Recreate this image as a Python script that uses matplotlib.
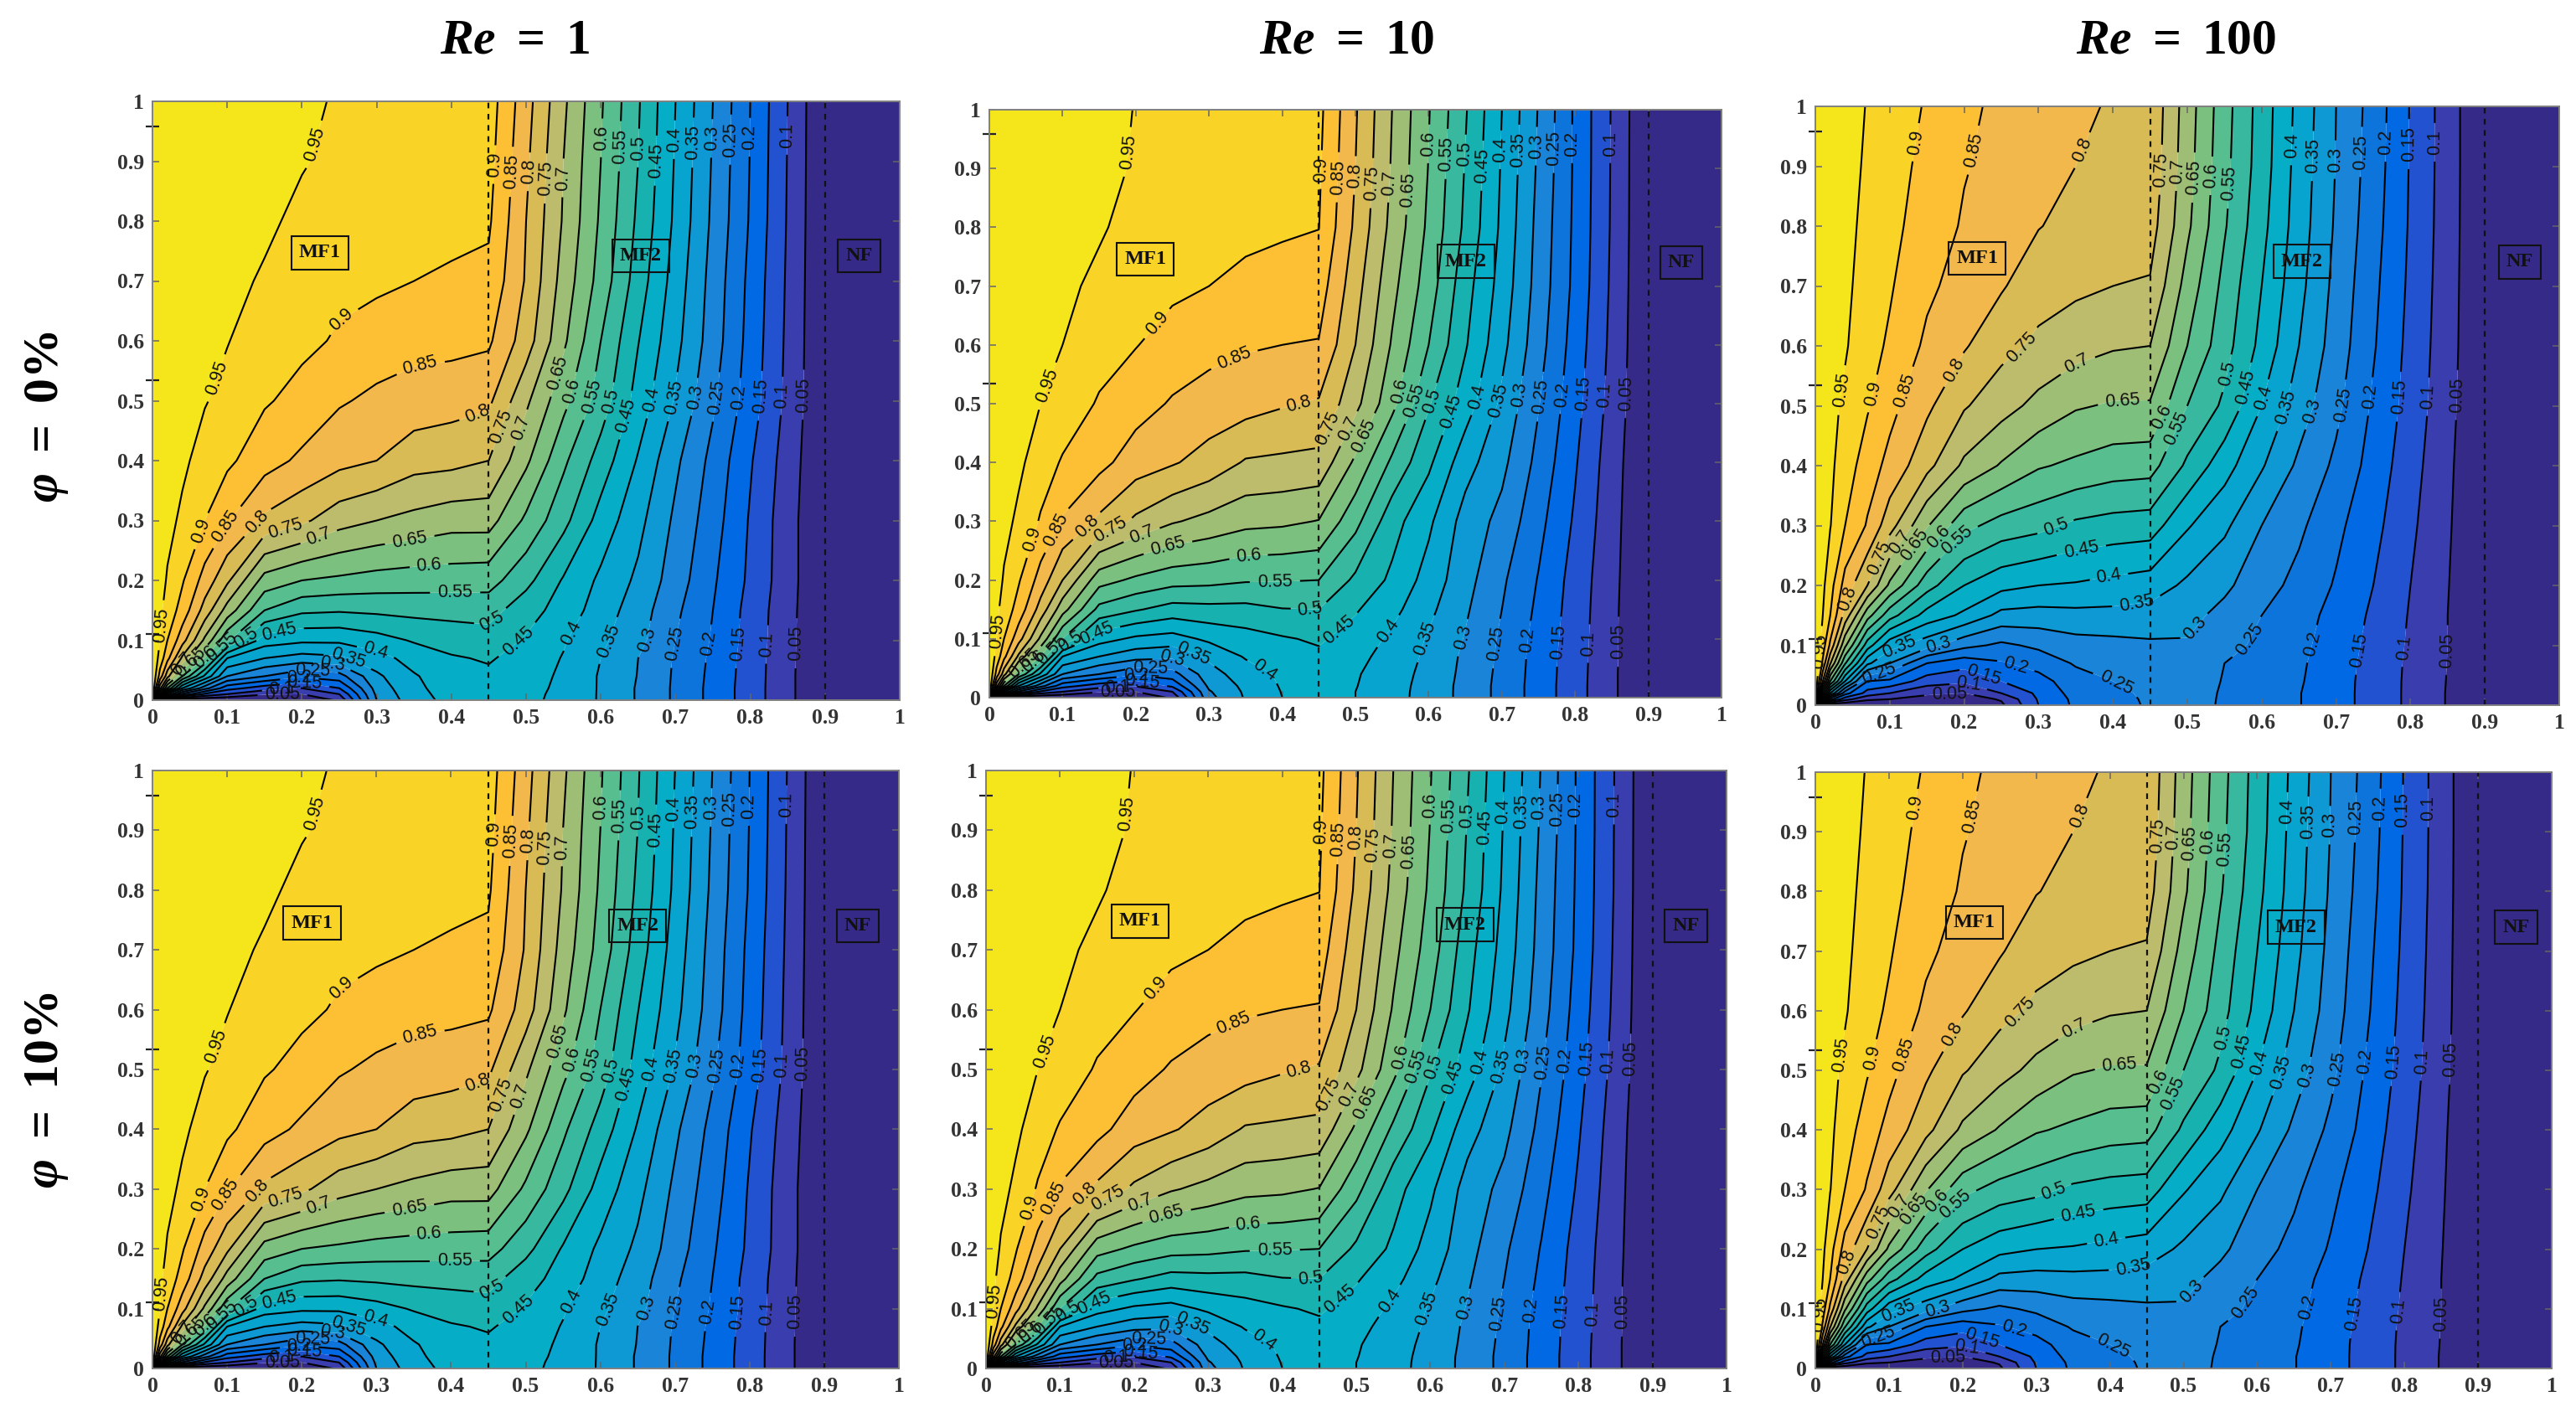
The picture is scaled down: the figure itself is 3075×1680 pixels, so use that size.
import matplotlib
matplotlib.use("Agg")
import matplotlib.pyplot as plt
import numpy as np

plt.rcParams["mathtext.fontset"] = "custom"
plt.rcParams["mathtext.rm"] = "Liberation Serif:bold"
plt.rcParams["mathtext.bf"] = "Liberation Serif:bold"
plt.rcParams["mathtext.it"] = "Liberation Serif:italic:bold"
plt.rcParams["mathtext.bfit"] = "Liberation Serif:italic:bold"

W, H = 3075, 1680

x_grid = [0, .01, .02, .04, .07, .1, .15, .2, .25, .3, .35, .4, .45,
          .5, .55, .6, .65, .7, .75, .8, .85, .9, 1]
y_grid = [0, .01, .02, .04, .07, .1, .15, .2, .3, .4, .5, .6, .7, .8, .9, 1]

# one list per x_grid column
z_axis = [0, 1, 1, 1, 1, 1, 1, 1, 1, 1, 1, 1, 1, 1, 1, 1]
z_far = [0] * 16

z_re1 = [
    z_axis,
    [0, .6, .77, .88, .93, .95, .96, .97, .975, .98, .98, .985, .985, .987, .988, .99],
    [0, .4, .6, .77, .865, .9, .93, .945, .965, .973, .978, .982, .985, .987, .988, .99],
    [0, .24, .4, .6, .74, .82, .88, .905, .94, .96, .968, .974, .978, .98, .983, .985],
    [0, .14, .27, .44, .6, .69, .78, .83, .9, .93, .953, .962, .968, .972, .975, .978],
    [0, .1, .17, .3, .4, .56, .68, .76, .855, .91, .935, .952, .962, .968, .972, .975],
    [0, .055, .125, .25, .35, .425, .55, .63, .79, .87, .905, .925, .945, .958, .965, .97],
    [0, .05, .1, .21, .33, .41, .51, .6, .76, .84, .885, .91, .925, .94, .953, .96],
    [.06, .1, .15, .23, .34, .41, .505, .59, .72, .815, .855, .895, .91, .925, .94, .945],
    [.3, .31, .32, .34, .38, .43, .51, .58, .7, .8, .84, .875, .91, .92, .93, .937],
    [.38, .385, .39, .395, .42, .455, .515, .575, .685, .77, .83, .865, .9, .912, .922, .93],
    [.415, .418, .42, .43, .445, .47, .517, .573, .67, .765, .82, .865, .895, .91, .92, .925],
    [.43, .432, .435, .44, .455, .478, .52, .57, .67, .75, .81, .858, .888, .907, .917, .925],
    [.413, .415, .418, .425, .43, .445, .47, .515, .59, .66, .71, .775, .795, .8, .81, .82],
    [.385, .386, .388, .39, .397, .405, .43, .445, .515, .56, .615, .66, .68, .695, .7, .71],
    [.345, .345, .345, .345, .35, .36, .375, .39, .43, .478, .527, .55, .58, .592, .6, .606],
    [.295, .295, .295, .298, .3, .315, .325, .34, .365, .395, .43, .452, .476, .49, .5, .505],
    [.242, .242, .242, .243, .245, .25, .26, .275, .29, .31, .345, .365, .378, .39, .395, .4],
    [.185, .185, .185, .187, .19, .195, .2, .207, .222, .235, .258, .275, .281, .29, .295, .3],
    [.125, .125, .125, .126, .127, .13, .132, .14, .145, .155, .175, .182, .187, .195, .198, .2],
    [.063, .063, .063, .063, .064, .065, .067, .07, .07, .077, .087, .09, .093, .096, .098, .1],
    z_far,
    z_far,
]

z_re10 = [
    z_axis,
    [0, .6, .77, .88, .93, .95, .96, .97, .975, .98, .98, .985, .985, .987, .988, .99],
    [0, .4, .6, .77, .865, .9, .93, .945, .965, .973, .978, .982, .985, .987, .988, .99],
    [0, .24, .4, .6, .74, .82, .88, .905, .94, .96, .968, .974, .978, .98, .983, .985],
    [0, .14, .27, .44, .6, .69, .78, .83, .895, .925, .95, .96, .967, .972, .975, .978],
    [0, .1, .17, .3, .4, .55, .67, .75, .845, .895, .93, .95, .96, .968, .972, .975],
    [0, .055, .125, .25, .35, .42, .535, .62, .79, .865, .895, .92, .94, .955, .965, .97],
    [0, .05, .105, .21, .32, .39, .505, .59, .74, .825, .87, .902, .92, .935, .945, .948],
    [.06, .1, .16, .23, .31, .38, .48, .57, .705, .805, .845, .88, .91, .925, .935, .94],
    [.285, .295, .31, .33, .36, .41, .485, .565, .685, .78, .83, .865, .9, .915, .925, .93],
    [.355, .358, .362, .375, .405, .43, .485, .555, .665, .745, .82, .855, .89, .91, .92, .925],
    [.4, .402, .405, .41, .425, .445, .498, .553, .66, .74, .805, .85, .885, .905, .915, .92],
    [.42, .421, .423, .43, .44, .457, .5, .55, .648, .735, .795, .847, .875, .901, .907, .913],
    [.4, .4, .402, .405, .415, .43, .455, .49, .565, .64, .715, .75, .77, .79, .8, .805],
    [.368, .369, .37, .372, .38, .39, .415, .44, .47, .54, .615, .645, .665, .685, .695, .7],
    [.33, .33, .331, .335, .34, .345, .362, .38, .41, .46, .505, .55, .575, .59, .598, .603],
    [.285, .285, .285, .287, .29, .297, .307, .318, .33, .37, .425, .455, .47, .49, .497, .505],
    [.235, .235, .235, .237, .24, .242, .25, .258, .285, .313, .34, .365, .38, .39, .395, .4],
    [.178, .178, .178, .179, .18, .183, .19, .197, .215, .235, .253, .27, .28, .285, .292, .297],
    [.12, .12, .12, .121, .122, .124, .127, .13, .143, .155, .168, .178, .187, .19, .192, .192],
    [.06, .06, .06, .06, .061, .061, .062, .064, .068, .073, .082, .088, .092, .095, .096, .097],
    z_far,
    z_far,
]

z_re100 = [
    z_axis,
    [0, .4, .6, .8, .89, .925, .95, .96, .97, .975, .978, .98, .982, .984, .985, .986],
    [0, .22, .4, .6, .755, .84, .9, .92, .952, .96, .965, .97, .973, .975, .977, .978],
    [0, .12, .22, .4, .555, .66, .78, .83, .9, .925, .94, .955, .96, .963, .965, .967],
    [0, .06, .13, .2, .36, .475, .62, .75, .845, .875, .905, .918, .93, .938, .944, .948],
    [0, .05, .1, .19, .3, .37, .52, .64, .77, .835, .865, .893, .905, .915, .922, .93],
    [0, .03, .06, .125, .2, .32, .43, .52, .655, .765, .81, .84, .86, .875, .885, .895],
    [0, .025, .05, .11, .17, .265, .39, .45, .565, .69, .755, .805, .83, .845, .853, .86],
    [.04, .055, .1, .15, .195, .24, .335, .415, .53, .645, .72, .765, .805, .825, .835, .84],
    [.15, .155, .16, .18, .22, .26, .33, .4, .515, .605, .685, .74, .77, .802, .815, .825],
    [.21, .212, .22, .23, .255, .28, .335, .395, .49, .59, .655, .72, .76, .785, .8, .81],
    [.235, .237, .24, .25, .27, .285, .335, .385, .48, .575, .645, .705, .75, .775, .785, .795],
    [.255, .256, .258, .26, .272, .292, .33, .375, .475, .57, .645, .7, .745, .772, .785, .79],
    [.265, .267, .27, .275, .285, .295, .315, .34, .405, .49, .55, .6, .63, .66, .67, .675],
    [.245, .245, .245, .247, .25, .265, .285, .31, .36, .42, .49, .52, .535, .555, .565, .57],
    [.223, .223, .224, .226, .23, .24, .25, .27, .3, .355, .4, .435, .45, .465, .475, .478],
    [.202, .202, .202, .205, .208, .213, .222, .235, .26, .29, .325, .35, .365, .375, .38, .385],
    [.17, .17, .17, .17, .172, .176, .182, .195, .212, .24, .262, .277, .285, .293, .298, .3],
    [.13, .13, .13, .131, .133, .136, .142, .15, .165, .18, .193, .205, .212, .22, .226, .23],
    [.09, .09, .09, .09, .091, .093, .096, .1, .11, .12, .13, .135, .14, .144, .146, .147],
    [.047, .047, .047, .048, .049, .05, .05, .052, .056, .06, .066, .07, .072, .074, .075, .075],
    z_far,
    z_far,
]

levels = [.05, .1, .15, .2, .25, .3, .35, .4, .45, .5, .55, .6, .65, .7, .75, .8, .85, .9, .95]
band_edges = [-.01] + levels + [1.01]
band_colors = ["#352a87", "#3a3dae", "#2352d1", "#0069e3", "#0d74dc", "#1a85d8", "#0e98d4",
               "#07a4d0", "#06adc6", "#17b2b0", "#39b8a0", "#57be8f", "#7bc07f", "#9fbe75",
               "#bdbb6c", "#d8bb55", "#f2b84b", "#fdbf33", "#f9d326", "#f5e51b"]

labels_re1 = [
    (.95, .222, .926), (.95, .088, .537), (.9, .258, .626), (.85, .359, .551), (.8, .435, .479),
    (.9, .064, .283), (.85, .101, .288), (.8, .144, .293), (.75, .179, .279), (.7, .224, .267),
    (.65, .344, .269), (.6, .37, .227), (.55, .405, .181), (.5, .454, .132), (.5, .123, .106),
    (.55, .09, .092), (.45, .17, .109), (.4, .299, .083), (.35, .263, .074), (.3, .241, .062),
    (.25, .215, .053), (.2, .196, .046), (.15, .204, .032), (.1, .172, .027), (.05, .174, .011),
    (.95, .013, .125), (.6, .065, .078), (.65, .047, .069), (.7, .04, .06),
    (.75, .469, .456), (.7, .495, .454), (.45, .491, .097),
    (.9, .463, .894), (.85, .484, .882), (.8, .508, .882), (.75, .53, .871), (.7, .553, .872),
    (.6, .601, .939), (.55, .627, .925), (.5, .651, .922), (.45, .674, .901), (.4, .699, .936),
    (.35, .724, .931), (.3, .75, .938), (.25, .775, .936), (.2, .799, .94), (.1, .85, .943),
    (.65, .543, .547), (.6, .564, .516), (.55, .59, .507), (.5, .616, .498), (.45, .639, .474),
    (.4, .672, .501), (.35, .7, .506), (.3, .728, .506), (.25, .757, .506), (.2, .786, .506),
    (.15, .814, .508), (.1, .842, .508), (.05, .871, .51),
    (.4, .562, .111), (.35, .611, .099), (.3, .657, .102), (.25, .7, .095), (.2, .742, .095),
    (.15, .783, .095), (.1, .822, .093), (.05, .861, .095),
]
labels_re10 = [
    (.95, .19, .928), (.95, .077, .531), (.9, .232, .633), (.85, .337, .569), (.8, .423, .496),
    (.9, .057, .27), (.85, .093, .284), (.8, .133, .292), (.75, .167, .28), (.7, .21, .27),
    (.65, .245, .251), (.6, .354, .239), (.55, .39, .199), (.5, .438, .149), (.5, .108, .102),
    (.55, .077, .09), (.45, .148, .106), (.4, .373, .042), (.35, .278, .073), (.3, .249, .064),
    (.25, .22, .052), (.2, .2, .042), (.15, .209, .028), (.1, .175, .028), (.05, .175, .009),
    (.95, .013, .113), (.6, .055, .07), (.65, .045, .06),
    (.75, .462, .458), (.7, .487, .46), (.65, .512, .445), (.45, .478, .115),
    (.9, .456, .898), (.85, .478, .885), (.8, .501, .888), (.75, .524, .875), (.7, .548, .875),
    (.65, .571, .864), (.6, .598, .942), (.55, .621, .925), (.5, .646, .925), (.45, .67, .905),
    (.4, .696, .932), (.35, .72, .932), (.3, .746, .938), (.25, .772, .935), (.2, .796, .942),
    (.1, .848, .942),
    (.6, .558, .522), (.55, .582, .505), (.5, .609, .502), (.45, .634, .485), (.4, .666, .512),
    (.35, .695, .505), (.3, .723, .515), (.25, .752, .512), (.2, .783, .515), (.15, .812, .518),
    (.1, .841, .515), (.05, .871, .518),
    (.4, .546, .112), (.35, .598, .099), (.3, .647, .102), (.25, .693, .092), (.2, .737, .098),
    (.15, .779, .095), (.1, .819, .092), (.05, .859, .095),
]
labels_re100 = [
    (.9, .135, .94), (.85, .216, .926), (.8, .364, .924), (.8, .186, .56), (.75, .278, .597),
    (.7, .353, .565), (.95, .041, .525), (.9, .079, .52), (.85, .122, .525), (.65, .413, .504),
    (.6, .464, .482), (.55, .49, .459),
    (.8, .048, .175), (.75, .09, .243), (.7, .118, .269), (.65, .144, .259), (.6, .178, .266),
    (.55, .206, .257), (.5, .323, .297), (.45, .357, .262), (.4, .394, .22), (.35, .432, .173),
    (.3, .165, .103), (.25, .405, .038), (.2, .27, .068), (.15, .227, .054), (.1, .206, .035),
    (.05, .18, .017), (.25, .086, .047), (.3, .5, .139), (.35, .114, .091), (.95, .01, .09),
    (.75, .466, .894), (.7, .488, .891), (.65, .51, .881), (.6, .533, .884), (.55, .558, .871),
    (.4, .64, .934), (.35, .671, .917), (.3, .701, .911), (.25, .733, .924), (.2, .765, .94),
    (.15, .798, .937), (.1, .832, .94),
    (.5, .55, .555), (.45, .576, .532), (.4, .605, .512), (.35, .637, .495), (.3, .672, .489),
    (.25, .71, .502), (.2, .75, .515), (.15, .787, .515), (.1, .825, .515), (.05, .864, .518),
    (.25, .59, .106), (.2, .669, .102), (.15, .732, .092), (.1, .792, .096), (.05, .848, .092),
]

tick_values = [0, .1, .2, .3, .4, .5, .6, .7, .8, .9, 1]
tick_text = ["0", "0.1", "0.2", "0.3", "0.4", "0.5", "0.6", "0.7", "0.8", "0.9", "1"]
stray_ticks = [.11, .534, .958]

# left, right, top, bottom in pixels
panels = [
    (182, 1074, 121, 836, z_re1, labels_re1, [(.224, .747), (.6535, .742), (.946, .742)]),
    (1181, 2055, 131, 833, z_re10, labels_re10, [(.213, .746), (.651, .742), (.945, .74)]),
    (2167, 3055, 127, 842, z_re100, labels_re100, [(.2176, .746), (.654, .741), (.947, .74)]),
    (182, 1073, 920, 1634, z_re1, labels_re1, [(.214, .745), (.65, .74), (.945, .74)]),
    (1177, 2061, 920, 1634, z_re10, labels_re10, [(.208, .748), (.647, .742), (.945, .74)]),
    (2167, 3046, 922, 1634, z_re100, labels_re100, [(.216, .748), (.653, .74), (.952, .74)]),
]
zone_names = ["MF1", "MF2", "NF"]

fig = plt.figure(figsize=(W / 100, H / 100), dpi=100, facecolor="white")

for left, right, top, bottom, z_cols, label_list, zone_xy in panels:
    ax = fig.add_axes([left / W, 1 - bottom / H, (right - left) / W, (bottom - top) / H])
    z = np.array(z_cols, dtype=float).T
    ax.contourf(x_grid, y_grid, z, levels=band_edges, colors=band_colors, antialiased=True)
    # each level gets its own contour set so a label lands on the right line
    for lev in levels:
        cs = ax.contour(x_grid, y_grid, z, levels=[lev], colors="black", linewidths=1.5)
        spots = [(lx, ly) for l, lx, ly in label_list if l == lev]
        if spots:
            texts = cs.clabel(manual=spots, inline=True, inline_spacing=6, fmt="%g",
                              fontsize=15.5, colors="#111111")
            for t in texts:
                t.set_family("Liberation Sans")

    ax.axvline(.45, color="#111111", lw=1.6, ls=(0, (3, 3)))
    ax.axvline(.9, color="#111111", lw=1.6, ls=(0, (3, 3)))
    for name, (bx, by) in zip(zone_names, zone_xy):
        ax.text(bx, by, name, ha="center", va="center", family="Liberation Serif",
                weight="bold", fontsize=17.5, color="#111111",
                bbox=dict(boxstyle="square,pad=0.38", fc="none", ec="#111111", lw=1.5))

    ax.set_xlim(0, 1)
    ax.set_ylim(0, 1)
    ax.set_xticks(tick_values, tick_text)
    ax.set_yticks(tick_values, tick_text)
    ax.set_yticks(stray_ticks, minor=True)
    ax.tick_params(which="major", direction="in", top=True, right=True, length=6, width=1.1,
                   color="#666666", pad=7, labelsize=18.5, labelcolor="#333333")
    ax.tick_params(which="minor", direction="inout", left=True, length=11, width=1.6,
                   color="#222222")
    for lab in ax.get_xticklabels() + ax.get_yticklabels():
        lab.set_family("Liberation Serif")
        lab.set_weight("bold")
    for sp in ax.spines.values():
        sp.set_color("#808080")
        sp.set_linewidth(1.4)

title_x = [614, 1608, 2598]
titles = [r"$\mathbfit{Re}\ \mathbf{=\ 1}$", r"$\mathbfit{Re}\ \mathbf{=\ 10}$",
          r"$\mathbfit{Re}\ \mathbf{=\ 100}$"]
for tx, txt in zip(title_x, titles):
    fig.text(tx / W, 1 - 47 / H, txt, ha="center", va="center", fontsize=43, color="black")

side_y = [498, 1302]
side_text = [r"$\mathbfit{\varphi}\ \mathbf{=\ 0\%}$", r"$\mathbfit{\varphi}\ \mathbf{=\ 10\%}$"]
for sy, txt in zip(side_y, side_text):
    fig.text(55 / W, 1 - sy / H, txt, ha="center", va="center", rotation=90, fontsize=43,
             color="black")

fig.savefig("out.png", dpi=100)
